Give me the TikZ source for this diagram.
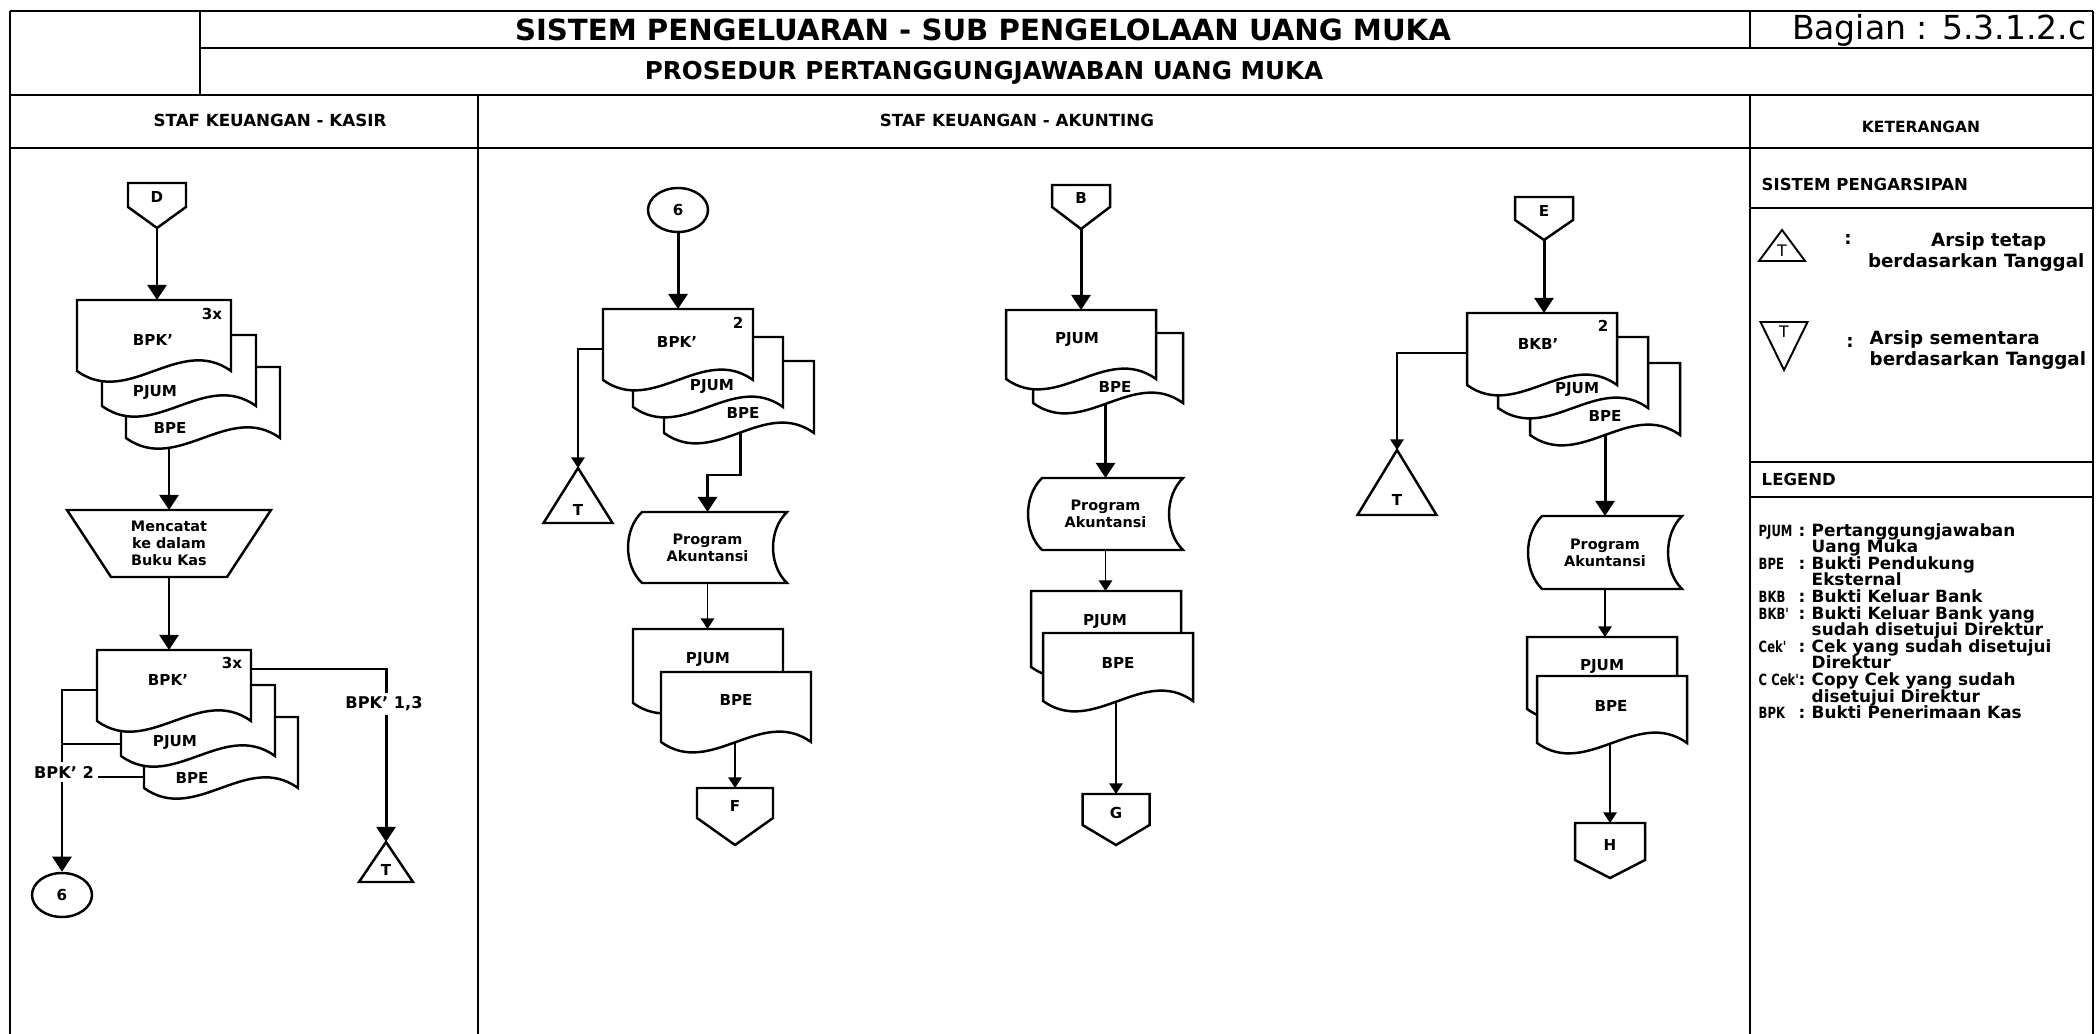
\documentclass[tikz,border=0pt]{standalone}
\usepackage{fontspec}
\setmainfont{DejaVu Sans}
\newfontfamily\condfont[FakeStretch=0.75]{DejaVu Sans Bold}
\usetikzlibrary{calc,arrows.meta,shapes.geometric}
\pgfdeclarelayer{back}
\pgfdeclarelayer{bg}
\pgfsetlayers{back,bg,main}
\def\pxu{0.01cm}
% document shape: name, x, y (top-left), w, h, wave control
\newcommand{\docu}[6]{%
  \node[shp, minimum width=#4*\pxu, minimum height=#5*\pxu, anchor=north west] (#1) at (#2,#3) {};
  \draw[outl] (#1.north west) -- (#1.north east) -- (#1.south east)
    .. controls ($(#1.south east)+(-#4/3,-#6)$) and ($(#1.south west)+(#4/3,#6)$) .. (#1.south west) -- cycle;
}
% stored data shape: name, x0, y0, w, h, bulge, text
\newcommand{\prog}[7]{%
  \node[shp, minimum width=#4*\pxu, minimum height=#5*\pxu, anchor=north west] (#1) at (#2,#3) {};
  \draw[outl] ($(#1.north west)+(#6,0)$) -- (#1.north east)
    .. controls ($(#1.north east)+(-1.33*#6,#5/4)$) and ($(#1.south east)+(-1.33*#6,-#5/4)$) .. (#1.south east)
    -- ($(#1.south west)+(#6,0)$)
    .. controls ($(#1.south west)+(-0.33*#6,-#5/4)$) and ($(#1.north west)+(-0.33*#6,#5/4)$) .. ($(#1.north west)+(#6,0)$) -- cycle;
  \node[ptext] (#1-t) at (#1.center) {#7};
}
% off-page connector: name, cx, top, w, rect height, total height, label
\newcommand{\offpage}[7]{%
  \node[shp, minimum width=#4*\pxu, minimum height=#6*\pxu, anchor=north] (#1) at (#2,#3) {};
  \draw[outl] (#1.north west) -- (#1.north east) -- ($(#1.north east)+(0,#5)$) -- (#1.south) -- ($(#1.north west)+(0,#5)$) -- cycle;
  \node[lbl] (#1-t) at ($(#1.north)+(0,#5*0.6)$) {#7};
}
% archive triangle (apex up): name, apex x, apex y, w, h, label offset above base
\newcommand{\archup}[6]{%
  \node[shp, minimum width=#4*\pxu, minimum height=#5*\pxu, anchor=north] (#1) at (#2,#3) {};
  \draw[outl] (#1.south west) -- (#1.north) -- (#1.south east) -- cycle;
  \node[lbl] (#1-t) at ($(#1.south)+(0,-#6)$) {T};
}
% archive triangle (apex down): name, cx, top y, w, h, label offset below top
\newcommand{\archdown}[6]{%
  \node[shp, minimum width=#4*\pxu, minimum height=#5*\pxu, anchor=north] (#1) at (#2,#3) {};
  \draw[outl] (#1.north west) -- (#1.north east) -- (#1.south) -- cycle;
  \node[lbl] (#1-t) at ($(#1.north)+(0,#6)$) {T};
}
\begin{document}
\begin{tikzpicture}[x=0.01cm,y=-0.01cm,
  frm/.style={line width=0.75pt},
  outl/.style={line width=0.7pt, fill=white, draw=black},
  shp/.style={inner sep=0pt, outer sep=0pt, draw=none},
  thk/.style={line width=0.85pt, -{Triangle[length=4.3pt,width=5.4pt]}},
  thn/.style={line width=0.45pt, -{Triangle[length=3pt,width=3.8pt]}},
  thkline/.style={line width=0.85pt},
  lbl/.style={inner sep=0pt, font={\bfseries\fontsize{4.3}{5}\selectfont}},
  ptext/.style={inner sep=0pt, align=center, font={\bfseries\fontsize{4.1}{4.75}\selectfont}},
  brl/.style={inner sep=1.2pt, fill=white, font={\bfseries\fontsize{4.6}{5}\selectfont}},
  hdr/.style={inner sep=0pt, font={\bfseries\fontsize{4.75}{5}\selectfont}},
  ket/.style={inner sep=0pt, font={\bfseries\fontsize{5.2}{5.8}\selectfont}},
  abf/.style={inner sep=0pt, font={\condfont\fontsize{4.4}{5}\selectfont}},
  lgf/.style={inner sep=0pt, font={\bfseries\fontsize{4.8}{5}\selectfont}}
]
\begin{pgfonlayer}{back}
  \fill[white] (0,0) rectangle (2098,1034);
\end{pgfonlayer}
\useasboundingbox (0,0) rectangle (2098,1034);

% ---------- frame ----------
\draw[frm] (10,11) -- (2093,11);
\draw[frm] (10,11) -- (10,1034);
\draw[frm] (2093,11) -- (2093,1034);
\draw[frm] (200,11) -- (200,95);
\draw[frm] (200,48) -- (2093,48);
\draw[frm] (1750,11) -- (1750,48);
\draw[frm] (10,95) -- (2093,95);
\draw[frm] (10,148) -- (2093,148);
\draw[frm] (478,95) -- (478,1034);
\draw[frm] (1750,95) -- (1750,1034);
\draw[frm] (1750,208) -- (2093,208);
\draw[frm] (1750,462) -- (2093,462);
\draw[frm] (1750,497) -- (2093,497);

\node[inner sep=0pt, font={\bfseries\fontsize{8.3}{9}\selectfont}] (title) at (983,30) {SISTEM PENGELUARAN - SUB PENGELOLAAN UANG MUKA};
\node[inner sep=0pt, font={\bfseries\fontsize{7.0}{8}\selectfont}] (subtitle) at (984,73) {PROSEDUR PERTANGGUNGJAWABAN UANG MUKA};
\node[inner sep=0pt, anchor=east, font={\fontsize{9.4}{10}\selectfont}] (bagian) at (2087,30) {Bagian : 5.3.1.2.c};
\node[hdr] (hkasir) at (270,120) {STAF KEUANGAN - KASIR};
\node[hdr] (hakun) at (1017,120) {STAF KEUANGAN - AKUNTING};
\node[inner sep=0pt, font={\bfseries\fontsize{4.4}{5}\selectfont}] (hket) at (1921,127) {KETERANGAN};

% ---------- KASIR ----------
\offpage{D}{157}{183}{58}{24}{45}{D}
\docu{kbpe1}{126}{367}{154}{71}{37}
\docu{kpjum1}{102}{335}{154}{71}{37}
\docu{kbpk1}{77}{300}{154}{71}{37}
\node[lbl] (kbpk1-n) at (212,314) {3x};
\node[lbl] (kbpk1-t) at (153,340) {BPK'};
\node[lbl] (kpjum1-t) at (155,393) {PJUM};
\node[lbl] (kbpe1-t) at (170,428) {BPE};

\node[shp, minimum width=204*\pxu, minimum height=67*\pxu] (mencatat) at (169,543.5) {};
\draw[outl] (mencatat.north west) -- (mencatat.north east) -- ($(mencatat.south east)+(-44,0)$) -- ($(mencatat.south west)+(44,0)$) -- cycle;
\node[ptext] (mencatat-t) at (mencatat.center) {Mencatat\\ke dalam\\Buku Kas};

\docu{kbpe2}{144}{717}{154}{71}{37}
\docu{kpjum2}{121}{685}{154}{71}{37}
\docu{kbpk2}{97}{650}{154}{71}{37}
\node[lbl] (kbpk2-n) at (232,663) {3x};
\node[lbl] (kbpk2-t) at (168,680) {BPK'};
\node[lbl] (kpjum2-t) at (175,742) {PJUM};
\node[lbl] (kbpe2-t) at (192,778) {BPE};

\node[ellipse, draw, line width=0.7pt, fill=white, minimum width=60*\pxu, minimum height=44*\pxu, inner sep=0pt, font={\bfseries\fontsize{4.3}{5}\selectfont}] (k6) at (62,895) {6};
\archup{kT}{386}{842}{54}{40}{12}

\coordinate (kj) at ($(kpjum2.north west)+(0,59)$);
\coordinate (kb) at ($(kbpe2.north west)+(0,60)$);

\begin{pgfonlayer}{bg}
  \draw[thk] (D.south) -- (D.south |- kbpk1.north);
  \draw[thk] (mencatat.north |- kbpe1.south) -- (mencatat.north);
  \draw[thk] (mencatat.south) -- (mencatat.south |- kbpk2.north);
  \draw[thk] ($(kbpk2.north east)+(0,19)$) -| (kT.north);
  \draw[thk] ($(kbpk2.north west)+(0,40)$) -| (k6.north);
  \draw[thkline] (kj) -- (kj -| k6.north);
  \draw[thkline] (kb) -- (kb -| k6.north);
\end{pgfonlayer}
\node[brl] (lab13) at (384,704) {BPK' 1,3};
\node[brl] (lab2) at (64,772) {BPK' 2};

% ---------- AKUNTING: section 1 ----------
\node[ellipse, draw, line width=0.7pt, fill=white, minimum width=60*\pxu, minimum height=44*\pxu, inner sep=0pt, font={\bfseries\fontsize{4.3}{5}\selectfont}] (a6) at (678,210) {6};
\docu{abpe}{664}{361}{150}{72}{36}
\docu{apjum}{633}{337}{150}{70}{36}
\docu{abpk}{603}{309}{150}{71}{36}
\node[lbl] (abpk-n) at (738,323) {2};
\node[lbl] (abpk-t) at (677,342) {BPK'};
\node[lbl] (apjum-t) at (712,387) {PJUM};
\node[lbl] (abpe-t) at (743,413) {BPE};
\archup{aT}{578}{468}{69}{55}{13}
\prog{aprog}{628}{512}{159}{71}{14}{Program\\Akuntansi}
\docu{apjum2}{633}{629}{150}{74}{36}
\docu{abpe2}{661}{672}{150}{70}{36}
\node[lbl] (apjum2-t) at (708,660) {PJUM};
\node[lbl] (abpe2-t) at (736,700) {BPE};
\offpage{F}{735}{788}{76}{30}{57}{F}

\begin{pgfonlayer}{bg}
  \draw[thk] (a6.south) -- (a6.south |- abpk.north);
  \draw[thn] ($(abpk.north west)+(0,40)$) -| (aT.north);
  \draw[thk] ($(abpe.south west)+(76,0)$) -- ++(0,42) -| (aprog.north);
  \draw[thn] (aprog.south) -- (aprog.south |- apjum2.north);
  \draw[thn] (F.north |- abpe2.south) -- (F.north);
\end{pgfonlayer}

% ---------- AKUNTING: section 2 ----------
\offpage{B}{1081}{185}{58}{22}{44}{B}
\docu{bbpe}{1033}{333}{150}{70}{36}
\docu{bpjum}{1006}{310}{150}{69}{36}
\node[lbl] (bpjum-t) at (1077,340) {PJUM};
\node[lbl] (bbpe-t) at (1115,387) {BPE};
\prog{bprog}{1028}{478}{155}{72}{14}{Program\\Akuntansi}
\docu{bpjum2}{1031}{591}{150}{76}{36}
\docu{bbpe2}{1043}{633}{150}{68}{36}
\node[lbl] (bpjum2-t) at (1105,621) {PJUM};
\node[lbl] (bbpe2-t) at (1118,663) {BPE};
\offpage{G}{1116}{794}{67}{31}{51}{G}

\begin{pgfonlayer}{bg}
  \draw[thk] (B.south) -- (B.south |- bpjum.north);
  \draw[thk] (bprog.north |- bbpe.south) -- (bprog.north);
  \draw[thn] (bprog.south) -- (bprog.south |- bpjum2.north);
  \draw[thn] (G.north |- bbpe2.south) -- (G.north);
\end{pgfonlayer}

% ---------- AKUNTING: section 3 ----------
\offpage{E}{1544}{197}{58}{23}{43}{E}
\docu{ebpe}{1530}{363}{150}{72}{36}
\docu{epjum}{1498}{337}{150}{71}{36}
\docu{ebkb}{1467}{313}{150}{72}{36}
\node[lbl] (ebkb-n) at (1603,326) {2};
\node[lbl] (ebkb-t) at (1538,344) {BKB'};
\node[lbl] (epjum-t) at (1577,390) {PJUM};
\node[lbl] (ebpe-t) at (1605,416) {BPE};
\archup{eT}{1397}{450}{79}{65}{15}
\prog{eprog}{1528}{516}{154}{73}{14}{Program\\Akuntansi}
\docu{epjum2}{1527}{637}{150}{72}{36}
\docu{ebpe2}{1537}{676}{150}{67}{36}
\node[lbl] (epjum2-t) at (1602,666) {PJUM};
\node[lbl] (ebpe2-t) at (1611,706) {BPE};
\offpage{H}{1610}{823}{70}{37}{55}{H}

\begin{pgfonlayer}{bg}
  \draw[thk] (E.south) -- (E.south |- ebkb.north);
  \draw[thn] ($(ebkb.north west)+(0,40)$) -| (eT.north);
  \draw[thk] (eprog.north |- ebpe.south) -- (eprog.north);
  \draw[thn] (eprog.south) -- (eprog.south |- epjum2.north);
  \draw[thn] (H.north |- ebpe2.south) -- (H.north);
\end{pgfonlayer}

% ---------- KETERANGAN ----------
\node[anchor=west, inner sep=0pt, font={\bfseries\fontsize{4.7}{5}\selectfont}] (sp) at (1761,184) {SISTEM PENGARSIPAN};
\begin{scope}[lbl/.style={inner sep=0pt, font={\fontsize{4.5}{5}\selectfont}}, outl/.style={line width=0.55pt, fill=white, draw=black}]
  \archup{lT1}{1782}{230}{46}{31}{10}
  \archdown{lT2}{1784}{322}{47}{48}{10}
\end{scope}
\node[ket] (c1) at (1848,240) {:};
\node[ket, anchor=east, align=right] (k1) at (2085,252) {Arsip tetap\hspace*{0.38cm}\\berdasarkan Tanggal};
\node[ket] (c2) at (1850,343) {:};
\node[ket, anchor=west, align=left] (k2) at (1869,350) {Arsip sementara\\berdasarkan Tanggal};
\node[anchor=west, inner sep=0pt, font={\bfseries\fontsize{4.7}{5}\selectfont}] (leg) at (1761,479) {LEGEND};
\foreach [count=\i from 0] \a/\c/\d in {PJUM/:/Pertanggungjawaban, /{}/Uang Muka, BPE/:/Bukti Pendukung, /{}/Eksternal, BKB/:/Bukti Keluar Bank, BKB'/:/Bukti Keluar Bank yang, /{}/sudah disetujui Direktur, Cek'/:/Cek yang sudah disetujui, /{}/Direktur, C Cek'/:/Copy Cek yang sudah, /{}/disetujui Direktur, BPK/:/Bukti Penerimaan Kas} {
  \node[abf, anchor=base west] (lga\i) at (1758,536+16.6*\i) {\a};
  \node[lgf, anchor=base] (lgc\i) at (1802,536+16.6*\i) {\c};
  \node[lgf, anchor=base west] (lgd\i) at (1811,536+16.6*\i) {\d};
}
\end{tikzpicture}
\end{document}
